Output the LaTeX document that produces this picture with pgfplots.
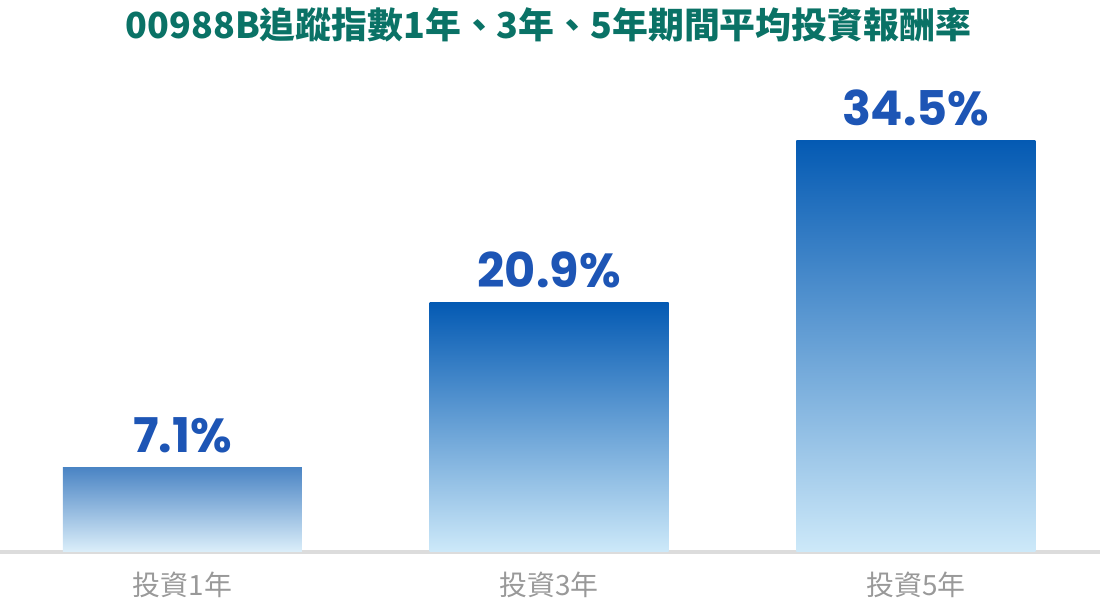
\documentclass[border=0pt]{standalone}
\usepackage{fontspec}
\usepackage{pgfplots}
\pgfplotsset{compat=1.18}
\newfontfamily\cjk{Noto Sans CJK TC}
\newfontfamily\valfont{Poppins}
\definecolor{titlecol}{HTML}{0A7266}
\definecolor{valcol}{HTML}{1D55B5}
\definecolor{catcol}{HTML}{999999}
\definecolor{basecol}{HTML}{DCDCDC}
\definecolor{topdark}{HTML}{045AB3}
\definecolor{middark}{HTML}{7EBBE6}
\definecolor{botlight}{HTML}{CDE9F9}
\definecolor{topone}{HTML}{4A84C4}
\definecolor{midone}{HTML}{A0CFEE}
\definecolor{botone}{HTML}{DCEFFA}
\begin{document}
\begin{tikzpicture}
\useasboundingbox (0,0) rectangle (1100bp,615bp);
\begin{axis}[
  at={(0,63bp)}, anchor=south west,
  scale only axis, width=1100bp, height=552bp,
  xmin=-0.4977, xmax=2.5023, ymin=0, ymax=46.3,
  axis x line*=bottom, axis y line=none,
  x axis line style={draw=basecol, line width=3bp, -},
  xtick={0,1,2}, xticklabels={投資1年,投資3年,投資5年},
  major tick length=0pt,
  xticklabel style={font=\cjk\fontsize{28}{32}\selectfont, text=catcol, anchor=center, yshift=-33bp},
  ybar, bar width=239bp, bar shift=0pt,
  clip=false,
  nodes near coords={\pgfmathprintnumber[fixed,precision=1,fixed zerofill,assume math mode=true]{\pgfplotspointmeta}\%},
  every node near coord/.append style={font=\valfont\bfseries\fontsize{48}{52}\selectfont, text=valcol, anchor=south, yshift=11bp},
]
\addplot[draw=none, shading=axis, top color=topone, middle color=midone, bottom color=botone] coordinates {(0,7.1)};
\addplot[draw=none, shading=axis, top color=topdark, middle color=middark, bottom color=botlight] coordinates {(1,20.9)};
\addplot[draw=none, shading=axis, top color=topdark, middle color=middark, bottom color=botlight] coordinates {(2,34.5)};
\node[font=\cjk\bfseries\fontsize{36}{40}\selectfont, text=titlecol] at (rel axis cs:0.4986,1) [yshift=-25bp] {00988B追蹤指數1年、3年、5年期間平均投資報酬率};
\end{axis}
\end{tikzpicture}
\end{document}
